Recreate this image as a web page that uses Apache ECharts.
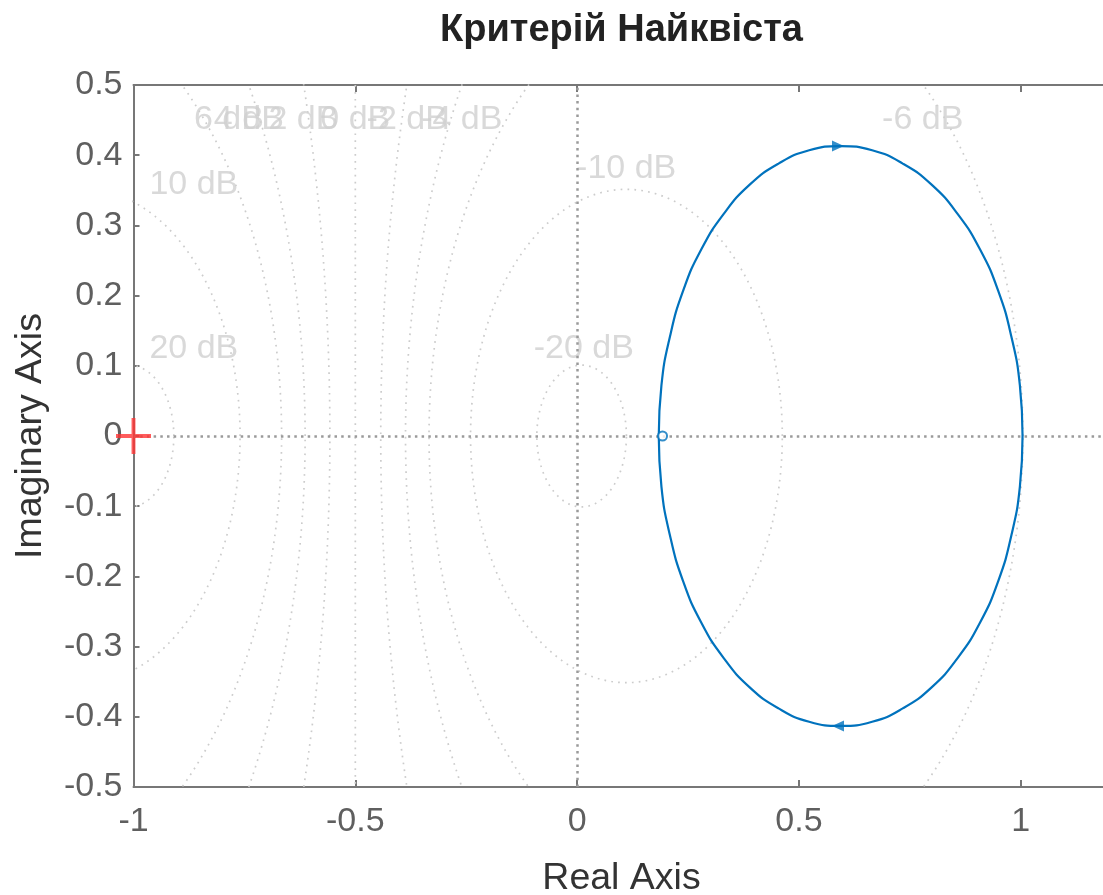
<!DOCTYPE html>
<html>
<head>
<meta charset="utf-8">
<script src="https://cdn.jsdelivr.net/npm/echarts@6/dist/echarts.min.js"></script>
<style>
html,body{margin:0;padding:0;background:#ffffff;}
#chart{width:1103px;height:895px;}
</style>
</head>
<body>
<div id="chart"></div>
<script>
// ---------- data ----------
// Positive-frequency branch (upper half): from the left real-axis crossing, over the top, to the right crossing
const upperRe = [0.184, 0.190, 0.209, 0.239, 0.280, 0.330, 0.389, 0.454, 0.523, 0.594, 0.665, 0.734, 0.799, 0.858, 0.908, 0.949, 0.979, 0.998, 1.004];
const upperIm = [0.000, 0.072, 0.141, 0.207, 0.266, 0.316, 0.358, 0.388, 0.407, 0.413, 0.407, 0.388, 0.358, 0.316, 0.266, 0.207, 0.141, 0.072, 0.000];
// Negative-frequency branch (lower half): from the right crossing, under the bottom, back to the left crossing
const lowerRe = [1.004, 0.998, 0.979, 0.949, 0.908, 0.858, 0.799, 0.734, 0.665, 0.594, 0.523, 0.454, 0.389, 0.330, 0.280, 0.239, 0.209, 0.190, 0.184];
const lowerIm = [0.000, -0.072, -0.141, -0.207, -0.266, -0.316, -0.358, -0.388, -0.407, -0.413, -0.407, -0.388, -0.358, -0.316, -0.266, -0.207, -0.141, -0.072, 0.000];
// Direction arrows on each branch
const arrowUpper = [0.588, 0.413];
const arrowLower = [0.588, -0.413];
// Small circle marker on the curve
const startMarker = [0.1925, 0];
// Critical point
const criticalPoint = [-1, 0];

// Constant closed-loop magnitude (M-circle) grid levels, dB
const mLevelsDb = [-20, -10, -6, -4, -2, 0, 2, 4, 6, 10, 20];
// Grid label texts and their anchor points (data coordinates)
const gridLabelText = ['6 dB', '4 dB', '2 dB', '0 dB', '-2 dB', '-4 dB', '-6 dB', '10 dB', '20 dB', '-10 dB', '-20 dB'];
const gridLabelRe   = [-0.785, -0.740, -0.617, -0.500, -0.383, -0.260, 0.779, -0.864, -0.864, 0.1105, 0.015];
const gridLabelIm   = [0.4507, 0.4507, 0.4507, 0.4507, 0.4507, 0.4507, 0.4507, 0.3575, 0.124, 0.381, 0.124];

// Axis settings
const xMin = -1, xMax = 1.2, xStep = 0.5;
const yMin = -0.5, yMax = 0.5, yStep = 0.1;

const titleText = 'Критерій Найквіста';
const xName = 'Real Axis';
const yName = 'Imaginary Axis';

// ---------- build ----------
const zip = (a, b) => a.map((v, i) => [v, b[i]]);

function mCirclePoints(db) {
  // Nyquist grid contour |G/(1+G)| = M
  if (db === 0) return [[-0.5, -10], [-0.5, 10]];
  const M = Math.pow(10, db / 20);
  const M2 = M * M;
  const c = -M2 / (M2 - 1);
  const r = Math.abs(M / (M2 - 1));
  const pts = [];
  const n = 1440;
  for (let i = 0; i <= n; i++) {
    const t = (i / n) * 2 * Math.PI;
    pts.push([c + r * Math.cos(t), r * Math.sin(t)]);
  }
  return pts;
}

const FONT = '"Liberation Sans", Arial, Helvetica, sans-serif';
const gridColor = '#cccccc';
const axisColor = '#777777';
const blue = '#0072BD';

const series = [];
mLevelsDb.forEach(db => {
  series.push({
    type: 'line',
    data: mCirclePoints(db),
    showSymbol: false,
    silent: true,
    clip: true,
    z: 1,
    lineStyle: { color: gridColor, width: 1.7, type: [1.7, 5.2] }
  });
});

series.push({
  type: 'scatter',
  silent: true,
  z: 2,
  symbolSize: 1,
  itemStyle: { color: 'rgba(0,0,0,0)' },
  data: gridLabelText.map((t, i) => ({ name: t, value: [gridLabelRe[i], gridLabelIm[i]] })),
  label: {
    show: true,
    position: 'inside',
    formatter: '{b}',
    fontFamily: FONT,
    fontSize: 34,
    color: '#d0d0d0',
    align: 'center',
    verticalAlign: 'middle'
  }
});

// Zero lines
series.push({
  type: 'line',
  data: [],
  silent: true,
  z: 3,
  markLine: {
    silent: true,
    symbol: ['none', 'none'],
    label: { show: false },
    lineStyle: { color: '#9a9a9a', width: 2.5, type: [2.5, 4.2] },
    data: [{ xAxis: 0 }, { yAxis: 0 }]
  }
});

// Nyquist curve
series.push({
  type: 'line',
  data: zip(upperRe, upperIm),
  smooth: 0.5,
  showSymbol: false,
  z: 5,
  lineStyle: { color: blue, width: 2.2 }
});
series.push({
  type: 'line',
  data: zip(lowerRe, lowerIm),
  smooth: 0.5,
  showSymbol: false,
  z: 5,
  lineStyle: { color: blue, width: 2.2 }
});
// arrows
series.push({
  type: 'scatter',
  z: 6,
  symbol: 'triangle',
  symbolSize: [11, 12],
  symbolRotate: -90,
  itemStyle: { color: blue },
  data: [arrowUpper]
});
series.push({
  type: 'scatter',
  z: 6,
  symbol: 'triangle',
  symbolSize: [11, 12],
  symbolRotate: 90,
  itemStyle: { color: blue },
  data: [arrowLower]
});
// small circle marker
series.push({
  type: 'scatter',
  z: 6,
  symbol: 'circle',
  symbolSize: 9,
  itemStyle: { color: '#ffffff', borderColor: blue, borderWidth: 2 },
  data: [startMarker]
});
// critical point "+"
series.push({
  type: 'scatter',
  z: 7,
  symbol: 'path://M-1,-9 L1,-9 L1,9 L-1,9 Z M-9,-1 L9,-1 L9,1 L-9,1 Z',
  symbolSize: [35, 36],
  itemStyle: { color: '#ff3333' },
  clip: false,
  data: [criticalPoint]
});

const tickFmt = v => {
  const r = Math.round(v * 10) / 10;
  return r === 0 ? '0' : String(r);
};

const option = {
  animation: false,
  backgroundColor: '#ffffff',
  title: {
    text: titleText,
    left: 621.5,
    top: 12,
    padding: 0,
    textAlign: 'center',
    textStyle: { fontFamily: FONT, fontSize: 38, fontWeight: 'bold', color: '#222222' }
  },
  grid: {
    left: 133.5,
    right: -6.5,
    top: 85,
    bottom: 108,
    containLabel: false,
    outerBoundsMode: 'none'
  },
  xAxis: [{
    type: 'value',
    position: 'bottom',
    min: xMin, max: xMax, interval: xStep,
    name: xName,
    nameLocation: 'middle',
    nameGap: 73,
    nameTextStyle: { fontFamily: FONT, fontSize: 37.5, color: '#333333' },
    axisLine: { show: true, onZero: false, lineStyle: { color: axisColor, width: 2 } },
    axisTick: { show: true, inside: true, length: 7, lineStyle: { color: axisColor, width: 2 } },
    axisLabel: { show: true, margin: 18, showMaxLabel: false, formatter: tickFmt, fontFamily: FONT, fontSize: 34, color: '#5f5f5f' },
    splitLine: { show: false }
  }, {
    type: 'value',
    position: 'top',
    min: xMin, max: xMax, interval: xStep,
    axisLine: { show: true, onZero: false, lineStyle: { color: axisColor, width: 2 } },
    axisTick: { show: true, inside: true, length: 7, lineStyle: { color: axisColor, width: 2 } },
    axisLabel: { show: false },
    splitLine: { show: false }
  }],
  yAxis: [{
    type: 'value',
    position: 'left',
    min: yMin, max: yMax, interval: yStep,
    name: yName,
    nameLocation: 'middle',
    nameGap: 84,
    nameRotate: 90,
    nameTextStyle: { fontFamily: FONT, fontSize: 37.5, color: '#333333' },
    axisLine: { show: true, onZero: false, lineStyle: { color: axisColor, width: 2 } },
    axisTick: { show: true, inside: true, length: 6, lineStyle: { color: axisColor, width: 2 } },
    axisLabel: { show: true, margin: 11, padding: [9, 0, 0, 0], formatter: tickFmt, fontFamily: FONT, fontSize: 34, color: '#5f5f5f' },
    splitLine: { show: false }
  }],
  series: series
};

const chart = echarts.init(document.getElementById('chart'), null, { renderer: 'canvas' });
chart.setOption(option);
</script>
</body>
</html>
